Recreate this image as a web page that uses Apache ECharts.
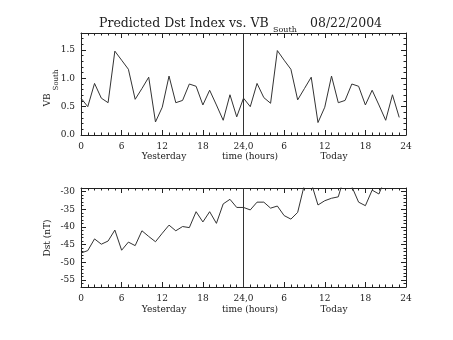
<!DOCTYPE html>
<html>
<head>
<meta charset="utf-8">
<script src="https://cdn.jsdelivr.net/npm/echarts@6/dist/echarts.min.js"></script>
<style>
html,body{margin:0;padding:0;background:#fff;}
#chart{width:453px;height:340px;}
</style>
</head>
<body>
<div id="chart"></div>
<script>
// hours 0..47
var hours = [];
for (var i = 0; i < 48; i++) hours.push(i);

var vbSouth = [0.65,0.50,0.91,0.65,0.57,1.48,1.32,1.16,0.63,0.82,1.02,0.23,0.49,1.04,0.57,0.61,0.90,0.86,0.53,0.79,0.53,0.26,0.71,0.32,
               0.65,0.50,0.91,0.66,0.56,1.49,1.32,1.16,0.62,0.82,1.02,0.22,0.49,1.04,0.57,0.61,0.90,0.86,0.53,0.79,0.53,0.26,0.71,0.31];

var dst = [-47.4,-46.7,-43.4,-44.9,-44.0,-40.9,-46.6,-44.3,-45.3,-41.1,-42.7,-44.2,-41.8,-39.5,-41.1,-39.9,-40.2,-35.7,-38.6,-35.7,-39.0,-33.5,-32.2,-34.5,
           -34.5,-35.2,-33.0,-33.0,-34.7,-34.1,-36.8,-37.8,-35.9,-28.0,-27.5,-33.8,-32.6,-31.9,-31.5,-25.0,-28.6,-33.0,-34.0,-29.6,-30.7,-26.0,-26.0,-27.0];

var xTickLabels = ['0','6','12','18','24,0','6','12','18','24'];
var vbMajorTicks = [0, 0.5, 1.0, 1.5];
var vbMinorTicks = [0,0.1,0.2,0.3,0.4,0.5,0.6,0.7,0.8,0.9,1.0,1.1,1.2,1.3,1.4,1.5,1.6,1.7,1.8];
var dstMajorTicks = [-55,-50,-45,-40,-35,-30];
var dstMinorTicks = [-57,-56,-55,-54,-53,-52,-51,-50,-49,-48,-47,-46,-45,-44,-43,-42,-41,-40,-39,-38,-37,-36,-35,-34,-33,-32,-31,-30,-29];

var FONT = 'DejaVu Serif';
var INK = '#222';
var AX = '#222';

function pairs(ys){ return hours.map(function(h,i){ return [h, ys[i]]; }); }

function xAx(grid, top){
  return {
    type:'value', gridIndex:grid, min:0, max:48, interval:6,
    position: top ? 'top' : 'bottom',
    axisLine:{show:true, onZero:false, lineStyle:{color:AX, width:1}},
    axisTick:{show:true, inside:true, length:5, lineStyle:{color:AX, width:1}},
    minorTick:{show:true, splitNumber:6, length:2.5, lineStyle:{color:AX, width:1}},
    splitLine:{show:false},
    axisLabel:{show:!top, margin:7, fontFamily:FONT, fontSize:9, color:INK,
      formatter:function(v){ return xTickLabels[Math.round(v/6)]; }}
  };
}
function yAx(grid, min, max, majors, minors, right, minor, fmt){
  return {
    type:'value', gridIndex:grid, min:min, max:max,
    position: right ? 'right' : 'left',
    axisLine:{show:!minor, onZero:false, lineStyle:{color:AX, width:1}},
    axisTick:{show:true, inside:true, length: minor ? 2.5 : 5, customValues: minor ? minors : majors,
      lineStyle:{color:AX, width:1}},
    splitLine:{show:false},
    axisLabel:{show:(!right && !minor), customValues:majors, margin:6, fontFamily:FONT, fontSize:9, color:INK,
      formatter:fmt}
  };
}
var fmtVB = function(v){ return v.toFixed(1); };
var fmtDst = function(v){ return String(Math.round(v)); };

var chart = echarts.init(document.getElementById('chart'), null, {renderer:'canvas'});

var texts = [];
function txt(t, x, y, size, rot, align){
  texts.push({type:'text', x:x, y:y, rotation: rot||0, silent:true,
    style:{text:t, font: size + 'px "' + FONT + '"', fill:INK, align: align||'center', verticalAlign:'middle'}});
}
// title
txt('Predicted Dst Index vs. VB', 99, 24, 12.5, 0, 'left');
txt('South', 273, 30, 8, 0, 'left');
txt('08/22/2004', 310, 24, 12.5, 0, 'left');
// y names
txt('VB', 48, 100, 9, Math.PI/2);
txt('South', 56, 80, 7, Math.PI/2);
txt('Dst (nT)', 48, 238, 9, Math.PI/2);
// x names
[157, 310].forEach(function(y){
  txt('Yesterday', 164, y, 9);
  txt('time (hours)', 250, y, 9);
  txt('Today', 334, y, 9);
});

var vline = {silent:true, symbol:['none','none'], label:{show:false},
  lineStyle:{color:'#333', width:1, type:'solid'}, data:[{xAxis:24}]};

chart.setOption({
  animation:false,
  backgroundColor:'#fff',
  grid:[
    {left:81, right:47, top:33, height:102},
    {left:81, right:47, top:188, height:99}
  ],
  xAxis:[xAx(0,false), xAx(0,true), xAx(1,false), xAx(1,true)],
  yAxis:[
    yAx(0,0,1.8,vbMajorTicks,vbMinorTicks,false,false,fmtVB),
    yAx(0,0,1.8,vbMajorTicks,vbMinorTicks,false,true,fmtVB),
    yAx(0,0,1.8,vbMajorTicks,vbMinorTicks,true,false,fmtVB),
    yAx(0,0,1.8,vbMajorTicks,vbMinorTicks,true,true,fmtVB),
    yAx(1,-57,-29,dstMajorTicks,dstMinorTicks,false,false,fmtDst),
    yAx(1,-57,-29,dstMajorTicks,dstMinorTicks,false,true,fmtDst),
    yAx(1,-57,-29,dstMajorTicks,dstMinorTicks,true,false,fmtDst),
    yAx(1,-57,-29,dstMajorTicks,dstMinorTicks,true,true,fmtDst)
  ],
  series:[
    {type:'line', xAxisIndex:0, yAxisIndex:0, data:pairs(vbSouth), showSymbol:false, clip:true,
     lineStyle:{color:'#333', width:1}, markLine:vline},
    {type:'line', xAxisIndex:2, yAxisIndex:4, data:pairs(dst), showSymbol:false, clip:true,
     lineStyle:{color:'#333', width:1}, markLine:vline}
  ],
  graphic:texts
});
</script>
</body>
</html>
